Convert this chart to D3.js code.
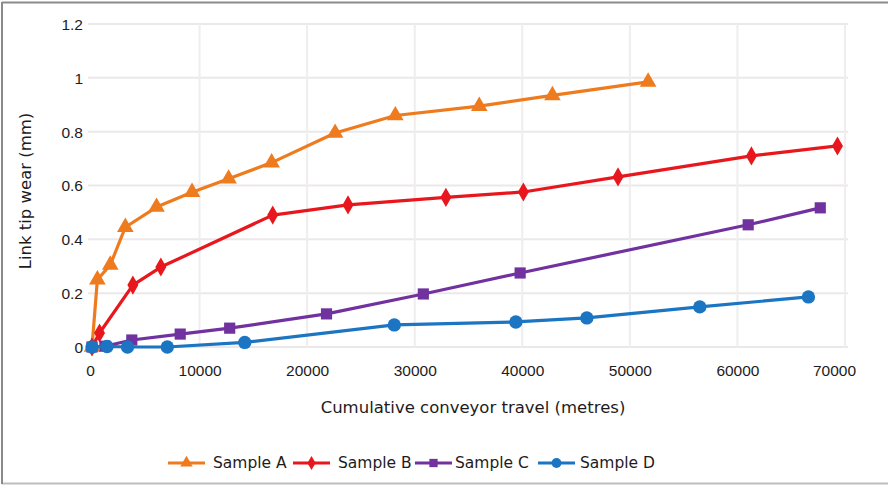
<!DOCTYPE html>
<html><head><meta charset="utf-8">
<script src="https://cdn.jsdelivr.net/npm/d3@7"></script>
<style>
html,body{margin:0;padding:0;background:#fff;}
svg{display:block;font-family:"DejaVu Sans", sans-serif;}
</style></head>
<body>
<svg id="chart" width="888" height="486"></svg>
<script>
const seriesNames = ["Sample A", "Sample B", "Sample C", "Sample D"];
const seriesColors = ["#EE7B1E", "#E8171D", "#7132A0", "#1B75C2"];
const seriesSymbols = ["triangle", "diamond", "square", "circle"];

const sampleA_x = [0, 500, 1700, 3100, 6000, 9300, 12700, 16700, 22600, 28200, 36000, 42800, 51700];
const sampleA_y = [0, 0.25, 0.305, 0.445, 0.52, 0.575, 0.625, 0.685, 0.795, 0.86, 0.895, 0.935, 0.985];

const sampleB_x = [0, 700, 3800, 6400, 16800, 23800, 32900, 40100, 48900, 61300, 69300];
const sampleB_y = [0, 0.052, 0.23, 0.297, 0.49, 0.528, 0.556, 0.576, 0.632, 0.71, 0.747];

const sampleC_x = [0, 1200, 3700, 8200, 12800, 21800, 30800, 39800, 61000, 67700];
const sampleC_y = [0, 0.003, 0.026, 0.048, 0.07, 0.123, 0.197, 0.275, 0.454, 0.517];

const sampleD_x = [0, 1400, 3300, 7000, 14200, 28100, 39400, 46000, 56500, 66600];
const sampleD_y = [0, 0.002, 0, 0, 0.017, 0.082, 0.093, 0.108, 0.149, 0.186];

const xTicks = [0, 10000, 20000, 30000, 40000, 50000, 60000, 70000];
const yTicks = [0, 0.2, 0.4, 0.6, 0.8, 1, 1.2];
const xTitle = "Cumulative conveyor travel (metres)";
const yTitle = "Link tip wear (mm)";

const seriesX = [sampleA_x, sampleB_x, sampleC_x, sampleD_x];
const seriesY = [sampleA_y, sampleB_y, sampleC_y, sampleD_y];

const svg = d3.select("#chart");
const x = d3.scaleLinear().domain([0, 70000]).range([92, 845]);
const y = d3.scaleLinear().domain([0, 1.2]).range([347, 24]);
const textColor = "#1e1b1c";
const fs = 15.5;
const tfs = 16.5;

// frame
svg.append("line").attr("x1",2).attr("x2",888).attr("y1",2.5).attr("y2",2.5).attr("stroke","#8a8a8a").attr("stroke-width",2);
svg.append("line").attr("x1",2).attr("x2",888).attr("y1",483.5).attr("y2",483.5).attr("stroke","#bdbdbd").attr("stroke-width",2);
svg.append("line").attr("x1",2).attr("x2",2).attr("y1",2).attr("y2",484).attr("stroke","#8a8a8a").attr("stroke-width",2);

// gridlines
const grid = svg.append("g");
grid.selectAll("line.h").data(yTicks).join("line")
  .attr("x1", 88).attr("x2", 848)
  .attr("y1", d => y(d)).attr("y2", d => y(d))
  .attr("stroke", "#ebe8e8").attr("stroke-width", 2);
grid.selectAll("line.v").data(xTicks.slice(1)).join("line")
  .attr("x1", d => x(d)).attr("x2", d => x(d))
  .attr("y1", y(1.2)).attr("y2", y(0))
  .attr("stroke", "#efeded").attr("stroke-width", 2);

// axes
const yAxis = svg.append("g").attr("transform", "translate(83,0)")
  .call(d3.axisLeft(y).tickValues(yTicks).tickSize(0).tickPadding(0).tickFormat(d => String(+d.toFixed(1))));
yAxis.select(".domain").remove();
yAxis.selectAll("text").attr("font-size", fs).attr("fill", textColor).attr("dy", "0.35em");

const xAxis = svg.append("g").attr("transform", "translate(0,365)")
  .call(d3.axisBottom(x).tickValues(xTicks).tickSize(0).tickPadding(0).tickFormat(d3.format("d")));
xAxis.select(".domain").remove();
xAxis.selectAll("text").attr("font-size", fs).attr("fill", textColor).attr("dy", "0.71em");
xAxis.selectAll(".tick").filter(d => d === 70000).select("text").attr("dx", -11);
xAxis.selectAll(".tick").filter(d => d === 0).select("text").attr("dx", -2);

// titles
svg.append("text").attr("x", 473).attr("y", 413).attr("text-anchor", "middle")
  .attr("font-size", tfs).attr("fill", textColor).text(xTitle);
svg.append("text").attr("transform", "translate(31,191) rotate(-90)").attr("text-anchor", "middle")
  .attr("font-size", tfs).attr("fill", textColor).text(yTitle);

// series
const symType = {triangle: d3.symbolTriangle, diamond: d3.symbolDiamond, square: d3.symbolSquare, circle: d3.symbolCircle};
const symSize = {triangle: 120, diamond: 105, square: 125, circle: 140};
const line = d3.line().x(d => x(d[0])).y(d => y(d[1]));

for (let i = 0; i < seriesNames.length; i++) {
  const pts = seriesX[i].map((v, j) => [v, seriesY[i][j]]);
  const g = svg.append("g");
  g.append("path").datum(pts).attr("d", line).attr("fill", "none")
    .attr("stroke", seriesColors[i]).attr("stroke-width", 3.2).attr("stroke-linejoin", "round");
  const sym = d3.symbol().type(symType[seriesSymbols[i]]).size(symSize[seriesSymbols[i]]);
  g.selectAll("path.m").data(pts).join("path").attr("class", "m")
    .attr("transform", d => `translate(${x(d[0])},${y(d[1])})`)
    .attr("d", sym).attr("fill", seriesColors[i]);
}

// legend
const legendX = [168, 293, 415, 538];
const legend = svg.append("g");
seriesNames.forEach((name, i) => {
  const lg = legend.append("g").attr("transform", `translate(${legendX[i]},463)`);
  lg.append("line").attr("x1", 0).attr("x2", 37).attr("y1", 0).attr("y2", 0)
    .attr("stroke", seriesColors[i]).attr("stroke-width", 3);
  lg.append("path").attr("transform", "translate(18.5,0)")
    .attr("d", d3.symbol().type(symType[seriesSymbols[i]]).size(symSize[seriesSymbols[i]] * 0.55)())
    .attr("fill", seriesColors[i]);
  lg.append("text").attr("x", i === 3 ? 42 : (i === 2 ? 40 : 45)).attr("y", 0).attr("dy", "0.35em")
    .attr("font-size", fs).attr("fill", textColor).text(name);
});
</script>
</body></html>
